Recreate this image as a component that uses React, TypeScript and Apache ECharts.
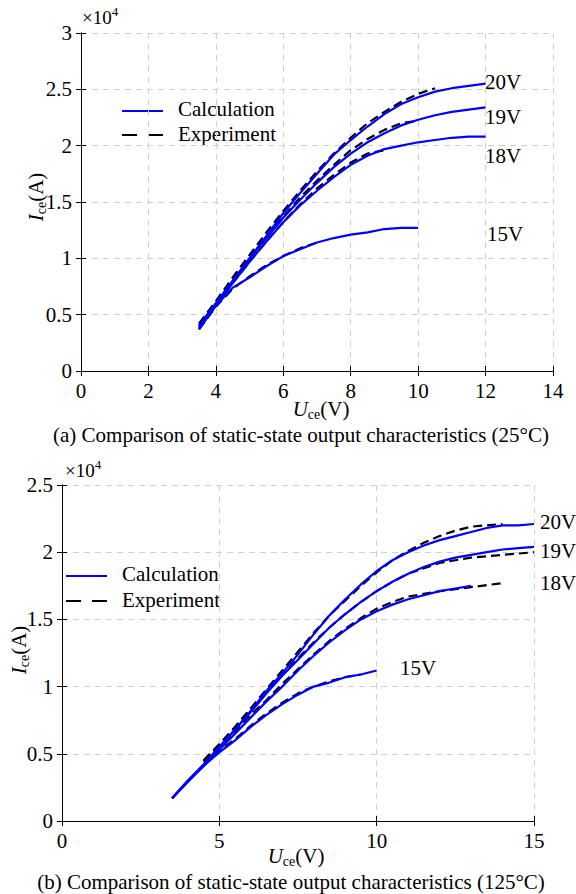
import React, { useEffect, useRef } from "react";
import * as echarts from "echarts";

// ---------- (a) 25°C, values in ×10^4 A ----------
const calc20A = [[3.5,0.4],[4,0.6],[4.5,0.8],[5,1.0],[5.5,1.2],[6,1.4],[6.5,1.58],[7,1.75],[7.5,1.92],[8,2.05],[8.5,2.17],[9,2.28],[9.5,2.37],[10,2.43],[10.5,2.48],[11,2.51],[11.5,2.53],[12,2.55]];
const calc19A = [[3.5,0.4],[4,0.6],[4.5,0.8],[5,1.0],[5.5,1.18],[6,1.36],[6.5,1.52],[7,1.67],[7.5,1.81],[8,1.93],[8.5,2.03],[9,2.11],[9.5,2.18],[10,2.23],[10.5,2.27],[11,2.3],[11.5,2.32],[12,2.34]];
const calc18A = [[3.5,0.38],[4,0.58],[4.5,0.78],[5,0.97],[5.5,1.15],[6,1.32],[6.5,1.47],[7,1.6],[7.5,1.72],[8,1.83],[8.5,1.91],[9,1.97],[9.5,2.0],[10,2.03],[10.5,2.05],[11,2.07],[11.5,2.08],[12,2.08]];
const calc15A = [[3.5,0.37],[4,0.58],[4.5,0.74],[5,0.83],[5.5,0.93],[6,1.02],[6.5,1.08],[7,1.14],[7.5,1.18],[8,1.21],[8.5,1.23],[9,1.26],[9.5,1.27],[10,1.27]];
const exp20A = [[3.5,0.42],[4,0.62],[4.5,0.83],[5,1.03],[5.5,1.23],[6,1.42],[6.5,1.6],[7,1.77],[7.5,1.93],[8,2.07],[8.5,2.2],[9,2.3],[9.5,2.39],[10,2.46],[10.5,2.51]];
const exp19A = [[3.5,0.4],[4,0.6],[4.5,0.8],[5,1.0],[5.5,1.19],[6,1.37],[6.5,1.54],[7,1.69],[7.5,1.83],[8,1.96],[8.5,2.06],[9,2.14],[9.5,2.2],[10,2.22]];
const exp18A = [[3.5,0.38],[4,0.58],[4.5,0.78],[5,0.97],[5.5,1.15],[6,1.32],[6.5,1.48],[7,1.62],[7.5,1.74],[8,1.85],[8.5,1.93],[9,1.96]];
const exp15A = [[3.5,0.37],[4,0.57],[4.5,0.73],[5,0.84],[5.5,0.94],[6,1.02],[6.5,1.09],[7,1.14]];

// ---------- (b) 125°C ----------
const calc20B = [[3.5,0.17],[4,0.3],[4.5,0.42],[5,0.55],[5.5,0.68],[6,0.82],[6.5,0.97],[7,1.1],[7.5,1.24],[8,1.39],[8.5,1.53],[9,1.65],[9.5,1.76],[10,1.86],[10.5,1.94],[11,2.0],[11.5,2.05],[12,2.09],[12.5,2.12],[13,2.15],[13.5,2.18],[14,2.2],[14.5,2.2],[15,2.21]];
const calc19B = [[3.5,0.17],[4,0.3],[4.5,0.42],[5,0.55],[5.5,0.68],[6,0.81],[6.5,0.95],[7,1.08],[7.5,1.2],[8,1.32],[8.5,1.44],[9,1.54],[9.5,1.63],[10,1.71],[10.5,1.78],[11,1.84],[11.5,1.89],[12,1.93],[12.5,1.96],[13,1.98],[13.5,2.0],[14,2.02],[14.5,2.03],[15,2.04]];
const calc18B = [[3.5,0.17],[4,0.29],[4.5,0.41],[5,0.53],[5.5,0.65],[6,0.77],[6.5,0.89],[7,1.0],[7.5,1.12],[8,1.23],[8.5,1.33],[9,1.42],[9.5,1.5],[10,1.56],[10.5,1.61],[11,1.65],[11.5,1.68],[12,1.71],[12.5,1.73],[13,1.75]];
const calc15B = [[3.5,0.17],[4,0.3],[4.5,0.41],[5,0.51],[5.5,0.6],[6,0.7],[6.5,0.79],[7,0.87],[7.5,0.94],[8,1.0],[8.5,1.03],[9,1.07],[9.5,1.09],[10,1.12]];
const exp20B = [[4.5,0.45],[5,0.57],[5.5,0.7],[6,0.84],[6.5,0.98],[7,1.12],[7.5,1.26],[8,1.4],[8.5,1.53],[9,1.64],[9.5,1.75],[10,1.85],[10.5,1.94],[11,2.01],[11.5,2.07],[12,2.12],[12.5,2.16],[13,2.19],[14,2.21]];
const exp19B = [[4.5,0.45],[5,0.57],[5.5,0.7],[6,0.83],[6.5,0.96],[7,1.09],[7.5,1.21],[8,1.33],[8.5,1.44],[9,1.54],[9.5,1.63],[10,1.71],[10.5,1.78],[11,1.84],[11.5,1.88],[12,1.92],[12.5,1.94],[13,1.96],[14,1.98],[15,2.0]];
const exp18B = [[4.5,0.44],[5,0.55],[5.5,0.67],[6,0.79],[6.5,0.9],[7,1.02],[7.5,1.13],[8,1.24],[8.5,1.34],[9,1.43],[9.5,1.51],[10,1.58],[10.5,1.63],[11,1.67],[11.5,1.69],[12,1.71],[13,1.74],[14,1.77]];
const exp15B = [[4.5,0.42],[5,0.52],[5.5,0.61],[6,0.71],[6.5,0.8],[7,0.88],[7.5,0.95],[8,1.0],[8.5,1.04],[9,1.07],[9.5,1.09]];

const voltageLabels = ["20V", "19V", "18V", "15V"];
const legendNames = ["Calculation", "Experiment"];
const captionA = "(a) Comparison of static-state output characteristics (25°C)";
const captionB = "(b) Comparison of static-state output characteristics (125°C)";

const FONT = "Liberation Serif";
const FS = 21;
const BLUE = "#0000ff";

function App() {
  const ref = useRef<HTMLDivElement>(null);
  useEffect(() => {
    if (!ref.current) return;
    const chart = echarts.init(ref.current, null, { renderer: "svg" });

    const grids = [
      { left: 81, top: 33, width: 472, height: 338 },
      { left: 62, top: 485, width: 472, height: 336 },
    ];
    const xRanges = [{ max: 14, interval: 2 }, { max: 15, interval: 5 }];
    const yRanges = [{ max: 3, interval: 0.5 }, { max: 2.5, interval: 0.5 }];

    const xAxis: any[] = [];
    const yAxis: any[] = [];
    [0, 1].forEach((g) => {
      xAxis.push({
        type: "value", gridIndex: g, min: 0, max: xRanges[g].max, interval: xRanges[g].interval,
        position: "bottom",
        axisLine: { show: true, lineStyle: { color: "#000", width: 1 } },
        axisTick: { show: true, inside: true, length: 5, lineStyle: { color: "#000" } },
        axisLabel: { color: "#000", fontFamily: FONT, fontSize: FS, margin: 9 },
        splitLine: { show: true, lineStyle: { color: "#d0d0d0", type: [6, 5], width: 1 } },
      });
      xAxis.push({
        type: "value", gridIndex: g, min: 0, max: xRanges[g].max, interval: xRanges[g].interval,
        position: "top",
        axisLine: { show: true, lineStyle: { color: "#000", width: 1 } },
        axisTick: { show: true, inside: true, length: 5, lineStyle: { color: "#000" } },
        axisLabel: { show: false },
        splitLine: { show: false },
      });
      yAxis.push({
        type: "value", gridIndex: g, min: 0, max: yRanges[g].max, interval: yRanges[g].interval,
        position: "left",
        axisLine: { show: true, lineStyle: { color: "#000", width: 1 } },
        axisTick: { show: true, inside: true, length: 5, lineStyle: { color: "#000" } },
        axisLabel: { color: "#000", fontFamily: FONT, fontSize: FS, margin: 9, formatter: (v: number) => String(v) },
        splitLine: { show: true, lineStyle: { color: "#d0d0d0", type: [6, 5], width: 1 } },
      });
      yAxis.push({
        type: "value", gridIndex: g, min: 0, max: yRanges[g].max, interval: yRanges[g].interval,
        position: "right",
        axisLine: { show: true, lineStyle: { color: "#000", width: 1 } },
        axisTick: { show: true, inside: true, length: 5, lineStyle: { color: "#000" } },
        axisLabel: { show: false },
        splitLine: { show: false },
      });
    });

    const expLine = (data: number[][], g: number) => ({
      type: "line", name: legendNames[1], data, xAxisIndex: g * 2, yAxisIndex: g * 2,
      showSymbol: false, symbol: "none", silent: true,
      lineStyle: { color: "#000", width: 2.2, type: [9, 5] },
    });
    const calcLine = (data: number[][], g: number) => ({
      type: "line", name: legendNames[0], data, xAxisIndex: g * 2, yAxisIndex: g * 2,
      showSymbol: false, symbol: "none", silent: true,
      lineStyle: { color: BLUE, width: 2.2 },
    });

    const series = [
      expLine(exp20A, 0), expLine(exp19A, 0), expLine(exp18A, 0), expLine(exp15A, 0),
      calcLine(calc20A, 0), calcLine(calc19A, 0), calcLine(calc18A, 0), calcLine(calc15A, 0),
      expLine(exp20B, 1), expLine(exp19B, 1), expLine(exp18B, 1), expLine(exp15B, 1),
      calcLine(calc20B, 1), calcLine(calc19B, 1), calcLine(calc18B, 1), calcLine(calc15B, 1),
    ];

    const txt = (text: string, x: number, y: number, extra: any = {}) => ({
      type: "text", x, y, silent: true,
      style: {
        text, fill: "#000", fontFamily: FONT, fontSize: FS,
        textAlign: "left", textVerticalAlign: "middle", ...extra,
      },
    });
    const richSub = {
      i: { fontFamily: FONT, fontSize: FS, fontStyle: "italic", fill: "#000" },
      s: { fontFamily: FONT, fontSize: 14, fill: "#000", padding: [10, 0, 0, 0] },
      n: { fontFamily: FONT, fontSize: FS, fill: "#000" },
    };
    const richSup = {
      n: { fontFamily: FONT, fontSize: 19, fill: "#000" },
      p: { fontFamily: FONT, fontSize: 13, fill: "#000", padding: [0, 0, 11, 0] },
    };

    const legendItems = (lx: number, ly1: number, ly2: number) => [
      { type: "line", silent: true, shape: { x1: lx, y1: ly1, x2: lx + 41, y2: ly1 }, style: { stroke: BLUE, lineWidth: 2.2 } },
      { type: "line", silent: true, shape: { x1: lx, y1: ly2, x2: lx + 41, y2: ly2 }, style: { stroke: "#000", lineWidth: 2.2, lineDash: [15, 11] } },
      txt(legendNames[0], lx + 56, ly1 - 2),
      txt(legendNames[1], lx + 56, ly2 - 1),
    ];

    const graphic: any[] = [
      // chart (a)
      txt("{n|×10}{p|4}", 82, 17, { rich: richSup }),
      { type: "text", x: 36, y: 197, rotation: Math.PI / 2, silent: true,
        style: { text: "{i|I}{s|ce}{n|(A)}", rich: richSub, textAlign: "center", textVerticalAlign: "middle" } },
      { type: "text", x: 321, y: 409, silent: true,
        style: { text: "{i|U}{s|ce}{n|(V)}", rich: richSub, textAlign: "center", textVerticalAlign: "middle" } },
      txt(captionA, 301, 435, { textAlign: "center" }),
      txt(voltageLabels[0], 485, 82),
      txt(voltageLabels[1], 485, 117),
      txt(voltageLabels[2], 485, 156),
      txt(voltageLabels[3], 487, 234),
      ...legendItems(122, 111, 135),
      // chart (b)
      txt("{n|×10}{p|4}", 65, 470, { rich: richSup }),
      { type: "text", x: 19, y: 650, rotation: Math.PI / 2, silent: true,
        style: { text: "{i|I}{s|ce}{n|(A)}", rich: richSub, textAlign: "center", textVerticalAlign: "middle" } },
      { type: "text", x: 296, y: 856, silent: true,
        style: { text: "{i|U}{s|ce}{n|(V)}", rich: richSub, textAlign: "center", textVerticalAlign: "middle" } },
      txt(captionB, 291, 882, { textAlign: "center" }),
      txt(voltageLabels[0], 540, 522),
      txt(voltageLabels[1], 540, 551),
      txt(voltageLabels[2], 540, 583),
      txt(voltageLabels[3], 400, 668),
      ...legendItems(66, 576, 601),
    ];

    chart.setOption({
      animation: false,
      backgroundColor: "#fff",
      textStyle: { fontFamily: FONT },
      grid: grids,
      xAxis,
      yAxis,
      series,
      graphic,
    });
    return () => chart.dispose();
  }, []);
  return (
    <div
      ref={ref}
      style={{ position: "fixed", left: 0, top: 0, width: 576, height: 894, background: "#fff" }}
    />
  );
}

export default App;
